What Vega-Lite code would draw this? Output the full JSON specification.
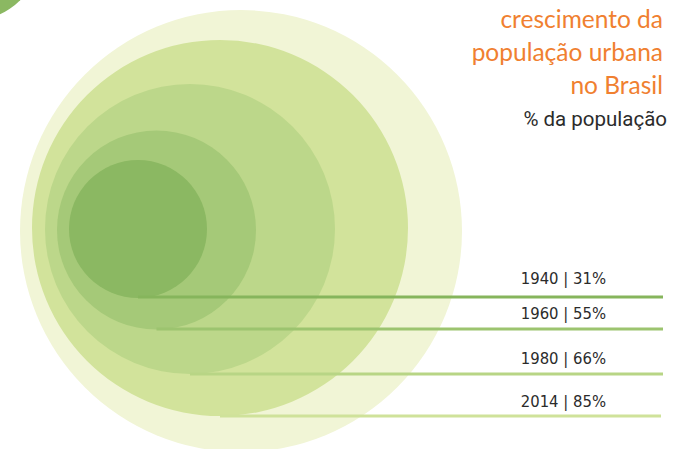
{
  "$schema": "https://vega.github.io/schema/vega-lite/v6.json",
  "width": 689,
  "height": 449,
  "autosize": {"type": "none"},
  "padding": 0,
  "background": "white",
  "config": {"view": {"stroke": null}},
  "datasets": {
    "circles": [
      {"id": "canto", "cx": -30, "cy": -50, "d": 142, "color": "#8bb862", "z": 0},
      {"id": "fundo", "cx": 241, "cy": 231, "d": 442, "color": "#f1f5d6", "z": 1},
      {"id": "2014", "cx": 220, "cy": 228, "d": 376, "color": "#d2e39b", "z": 2},
      {"id": "1980", "cx": 190, "cy": 229, "d": 290, "color": "#bcd78a", "z": 3},
      {"id": "1960", "cx": 156.5, "cy": 230, "d": 199, "color": "#a5c978", "z": 4},
      {"id": "1940", "cx": 138, "cy": 229, "d": 138, "color": "#8bb862", "z": 5}
    ],
    "series": [
      {"ano": "1940", "pct": 31, "label": "1940 | 31%", "x1": 138, "x2": 663, "ly": 297, "ty": 284, "color": "#86b55c"},
      {"ano": "1960", "pct": 55, "label": "1960 | 55%", "x1": 156.5, "x2": 663, "ly": 329, "ty": 319, "color": "#9cc46f"},
      {"ano": "1980", "pct": 66, "label": "1980 | 66%", "x1": 190, "x2": 663, "ly": 374, "ty": 364, "color": "#b8d585"},
      {"ano": "2014", "pct": 85, "label": "2014 | 85%", "x1": 220, "x2": 661, "ly": 416, "ty": 406.5, "color": "#cfe29a"}
    ],
    "titles": [
      {"t": "crescimento da", "x": 663, "y": 28, "kind": "title"},
      {"t": "população urbana", "x": 663, "y": 60.5, "kind": "title"},
      {"t": "no Brasil", "x": 663, "y": 94, "kind": "title"}
    ]
  },
  "layer": [
    {
      "data": {"name": "circles"},
      "mark": {"type": "point", "shape": "circle", "filled": true, "opacity": 1, "strokeWidth": 0, "clip": true},
      "encoding": {
        "x": {"field": "cx", "type": "quantitative", "scale": {"domain": [0, 689]}, "axis": null},
        "y": {"field": "cy", "type": "quantitative", "scale": {"domain": [449, 0]}, "axis": null},
        "size": {"field": "d", "type": "quantitative", "scale": {"type": "pow", "exponent": 2, "domain": [0, 442], "range": [0, 195364]}, "legend": null},
        "color": {"field": "color", "type": "nominal", "scale": null},
        "order": {"field": "z", "type": "quantitative"}
      }
    },
    {
      "data": {"name": "series"},
      "mark": {"type": "rule", "strokeWidth": 3},
      "encoding": {
        "x": {"field": "x1", "type": "quantitative", "scale": {"domain": [0, 689]}, "axis": null},
        "x2": {"field": "x2"},
        "y": {"field": "ly", "type": "quantitative", "scale": {"domain": [449, 0]}, "axis": null},
        "color": {"field": "color", "type": "nominal", "scale": null}
      }
    },
    {
      "data": {"name": "series"},
      "mark": {"type": "text", "align": "right", "baseline": "alphabetic", "font": "Liberation Sans Narrow, DejaVu Sans Condensed, Roboto", "fontSize": 16.5, "color": "#2b2b2b"},
      "encoding": {
        "x": {"datum": 606, "type": "quantitative", "scale": {"domain": [0, 689]}, "axis": null},
        "y": {"field": "ty", "type": "quantitative", "scale": {"domain": [449, 0]}, "axis": null},
        "text": {"field": "label"}
      }
    },
    {
      "data": {"name": "titles"},
      "mark": {"type": "text", "align": "right", "baseline": "alphabetic", "font": "Lato", "fontSize": 24.5, "color": "#f08030"},
      "encoding": {
        "x": {"field": "x", "type": "quantitative", "scale": {"domain": [0, 689]}, "axis": null},
        "y": {"field": "y", "type": "quantitative", "scale": {"domain": [449, 0]}, "axis": null},
        "text": {"field": "t"}
      }
    },
    {
      "data": {"values": [{"t": "% da população", "x": 667, "y": 125.5}]},
      "mark": {"type": "text", "align": "right", "baseline": "alphabetic", "font": "Roboto", "fontSize": 20.5, "color": "#2b2b2b"},
      "encoding": {
        "x": {"field": "x", "type": "quantitative", "scale": {"domain": [0, 689]}, "axis": null},
        "y": {"field": "y", "type": "quantitative", "scale": {"domain": [449, 0]}, "axis": null},
        "text": {"field": "t"}
      }
    }
  ]
}
